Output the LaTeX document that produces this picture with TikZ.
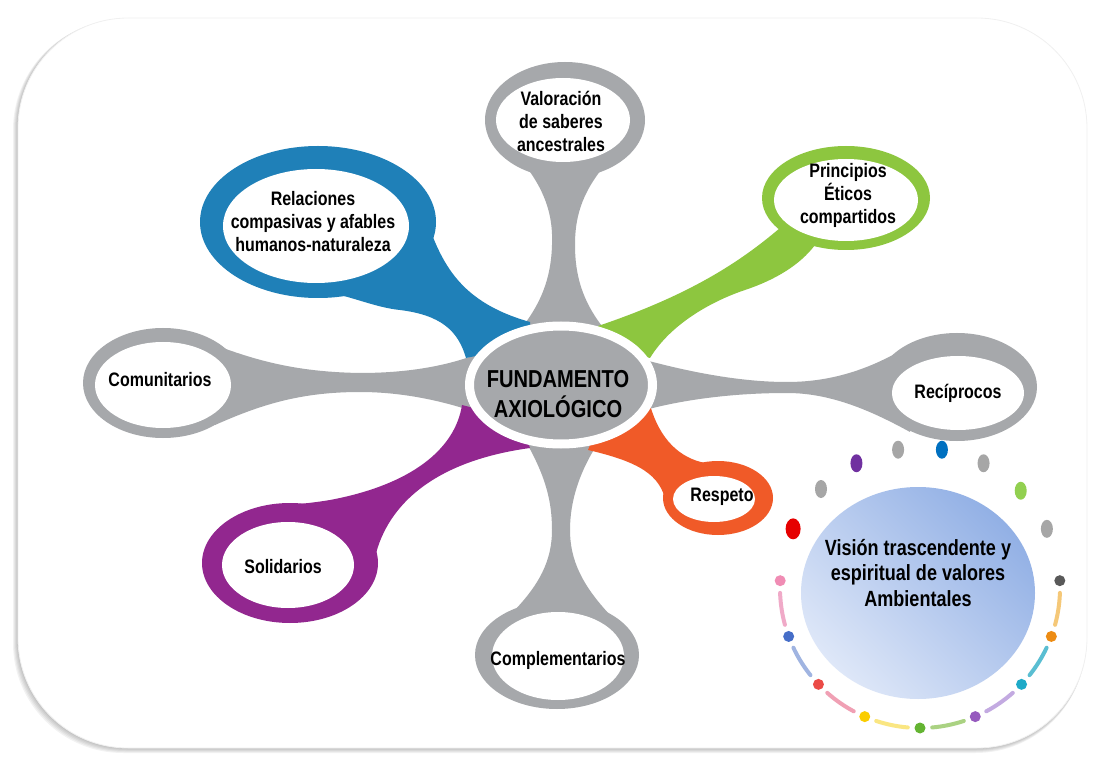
\documentclass[tikz,border=0pt]{standalone}
\usepackage{fontspec}
\setmainfont[FakeStretch=0.82]{Liberation Sans}

\definecolor{stalkgray}{RGB}{166,168,171}
\definecolor{relblue}{RGB}{31,128,184}
\definecolor{prigreen}{RGB}{141,198,63}
\definecolor{solpurple}{RGB}{146,39,143}
\definecolor{resorange}{RGB}{240,90,40}
\definecolor{vislight}{RGB}{222,231,248}
\definecolor{visblue}{RGB}{146,176,229}
\definecolor{dotred}{RGB}{230,0,0}
\definecolor{dotgray}{RGB}{166,166,166}
\definecolor{dotdark}{RGB}{89,89,89}
\definecolor{dotpurple}{RGB}{112,48,160}
\definecolor{dotblue}{RGB}{0,112,192}
\definecolor{dotgreen}{RGB}{146,208,80}
\definecolor{dotorange}{RGB}{237,140,20}
\definecolor{dotteal}{RGB}{30,170,200}
\definecolor{dotlilac}{RGB}{150,90,190}
\definecolor{dotleaf}{RGB}{100,180,50}
\definecolor{dotyellow}{RGB}{250,205,0}
\definecolor{dotcoral}{RGB}{235,75,70}
\definecolor{dotsky}{RGB}{70,110,200}
\definecolor{dotpink}{RGB}{240,140,180}
\definecolor{dashorange}{RGB}{245,200,120}
\definecolor{dashteal}{RGB}{90,190,210}
\definecolor{dashlilac}{RGB}{195,170,225}
\definecolor{dashgreen}{RGB}{170,210,130}
\definecolor{dashyellow}{RGB}{250,230,130}
\definecolor{dashrose}{RGB}{240,160,180}
\definecolor{dashblue}{RGB}{160,180,225}
\definecolor{dashpink}{RGB}{240,170,200}

\tikzset{
  label text/.style={align=center, inner sep=0pt, font=\bfseries\fontsize{9.75}{11.5}\selectfont},
  bigdot/.style={x radius=6, y radius=9},
  smalldot/.style={radius=5.5},
  dash line/.style={line width=2pt, line cap=round},
}

\begin{document}
\begin{tikzpicture}[x=0.5pt,y=-0.5pt]
\useasboundingbox (0,0) rectangle (1093,759);
\foreach \s in {1,...,5}
  \fill[black, opacity=0.05, rounded corners=55pt] (18-\s,18+0.4*\s) rectangle (1087-0.3*\s,748+\s);
\fill[white, draw=black!6, rounded corners=55pt] (18,18) rectangle (1087,748);

\fill[stalkgray] (565,120) ellipse [x radius=80, y radius=58];
\fill[stalkgray] (525,165) .. controls (548,195) and (553,220) .. (552,245) .. controls (551,280) and (540,305) .. (520,330)
  -- (605,330) .. controls (585,305) and (575,280) .. (575,245) .. controls (575,220) and (580,195) .. (605,165) -- cycle;
\fill[stalkgray] (557,655) ellipse [x radius=82, y radius=54];
\fill[stalkgray] (525,440) .. controls (545,475) and (552,500) .. (552,530) .. controls (552,560) and (540,585) .. (510,615)
  -- (610,615) .. controls (582,585) and (570,560) .. (570,530) .. controls (570,500) and (580,470) .. (600,440) -- cycle;
\fill[stalkgray] (163,383) ellipse [x radius=80, y radius=55];
\fill[stalkgray] (215,345) .. controls (260,362) and (300,372) .. (360,373) .. controls (400,373) and (440,368) .. (475,355)
  -- (475,412) .. controls (440,400) and (400,392) .. (360,392) .. controls (300,392) and (260,405) .. (215,425) -- cycle;
\fill[stalkgray] (957,387) ellipse [x radius=80, y radius=54];
\fill[stalkgray] (645,360) .. controls (690,372) and (740,382) .. (787,382) .. controls (830,382) and (870,370) .. (910,345)
  -- (910,432) .. controls (870,410) and (830,393) .. (787,393) .. controls (740,393) and (690,398) .. (645,410) -- cycle;

\fill[relblue] (318,222) ellipse [x radius=118, y radius=76];
\fill[relblue] (420,200) .. controls (438,255) and (452,300) .. (530,322) -- (530,345) -- (466,358)
  .. controls (458,330) and (440,315) .. (400,310) .. controls (380,308) and (360,300) .. (340,295) -- cycle;
\fill[prigreen] (846,198) ellipse [x radius=84, y radius=52];
\fill[prigreen] (780,228) .. controls (740,262) and (690,295) .. (598,326) -- (600,345) -- (650,358)
  .. controls (672,322) and (715,300) .. (745,290) .. controls (775,280) and (800,265) .. (815,245) -- cycle;
\fill[solpurple] (290,563) ellipse [x radius=88, y radius=60];
\fill[solpurple] (462,405) .. controls (455,450) and (410,485) .. (330,500) .. controls (300,505) and (280,505) .. (260,507)
  -- (374,562) .. controls (384,510) and (428,462) .. (530,448) -- (520,420) -- cycle;
\fill[resorange] (718,498) ellipse [x radius=55, y radius=37];
\fill[resorange] (650,405) .. controls (660,440) and (680,458) .. (705,463) -- (666,502)
  .. controls (660,475) and (640,462) .. (588,450) -- (600,420) -- cycle;

\fill[stalkgray, draw=white, line width=4.5pt] (561,385) ellipse [x radius=91.5, y radius=59];
\node (core) at (558,394) [align=center, font=\bfseries\fontsize{12.25}{15}\selectfont] {FUNDAMENTO\\AXIOLÓGICO};

\fill[white] (563,120) ellipse [x radius=67, y radius=42];
\fill[white] (316,226) ellipse [x radius=93, y radius=57];
\fill[white] (846,200) ellipse [x radius=72, y radius=41];
\fill[white] (163,385) ellipse [x radius=68, y radius=43];
\fill[white] (958,393) ellipse [x radius=66, y radius=37];
\fill[white] (288,565) ellipse [x radius=66, y radius=43];
\fill[white] (558,656) ellipse [x radius=66, y radius=44];
\fill[white] (714,499) ellipse [x radius=41, y radius=23];
\node (val) at (561,121) [label text] {Valoración\\de saberes\\ancestrales};
\node (rel) at (313,222) [label text] {Relaciones\\compasivas y afables\\humanos-naturaleza};
\node (pri) at (848,195) [label text] {Principios\\Éticos\\compartidos};
\node (com) at (160,380) [label text] {Comunitarios};
\node (rec) at (958,393) [label text] {Recíprocos};
\node (sol) at (283,567) [label text] {Solidarios};
\node (compl) at (558,660) [label text] {Complementarios};
\node (res) at (722,497) [label text] {Respeto};

\shade[shading=axis, top color=visblue, bottom color=vislight, shading angle=-45] (918,593) ellipse [x radius=117, y radius=106];
\node (vis) at (918,573) [align=center, font=\bfseries\fontsize{11}{12.75}\selectfont] {Visión trascendente y\\espiritual de valores\\Ambientales};

\coordinate (ring) at (920,588);
\foreach \a/\c in {225/dotgray, 243/dotpurple, 261/dotgray, 279/dotblue, 297/dotgray, 316/dotgreen, 335/dotgray}
  \fill[\c] (ring) ++(\a:140) ellipse [bigdot];
\fill[dotred] (ring) ++(205:140) ellipse [x radius=7.5, y radius=10.5];
\foreach \a/\b/\c in {2/15.25/dashorange, 25.25/38.5/dashteal, 48.5/61.75/dashlilac, 71.75/85/dashgreen,
    95/108.25/dashyellow, 118.25/131.5/dashrose, 141.5/154.75/dashblue, 164.75/178/dashpink}
  \draw[dash line, \c] (ring) ++(\a:140) arc [start angle=\a, end angle=\b, radius=140];
\foreach \a/\c in {-3/dotdark, 20.25/dotorange, 43.5/dotteal, 66.75/dotlilac, 90/dotleaf,
    113.25/dotyellow, 136.5/dotcoral, 159.75/dotsky, 183/dotpink}
  \fill[\c] (ring) ++(\a:140) circle [smalldot];
\end{tikzpicture}
\end{document}
